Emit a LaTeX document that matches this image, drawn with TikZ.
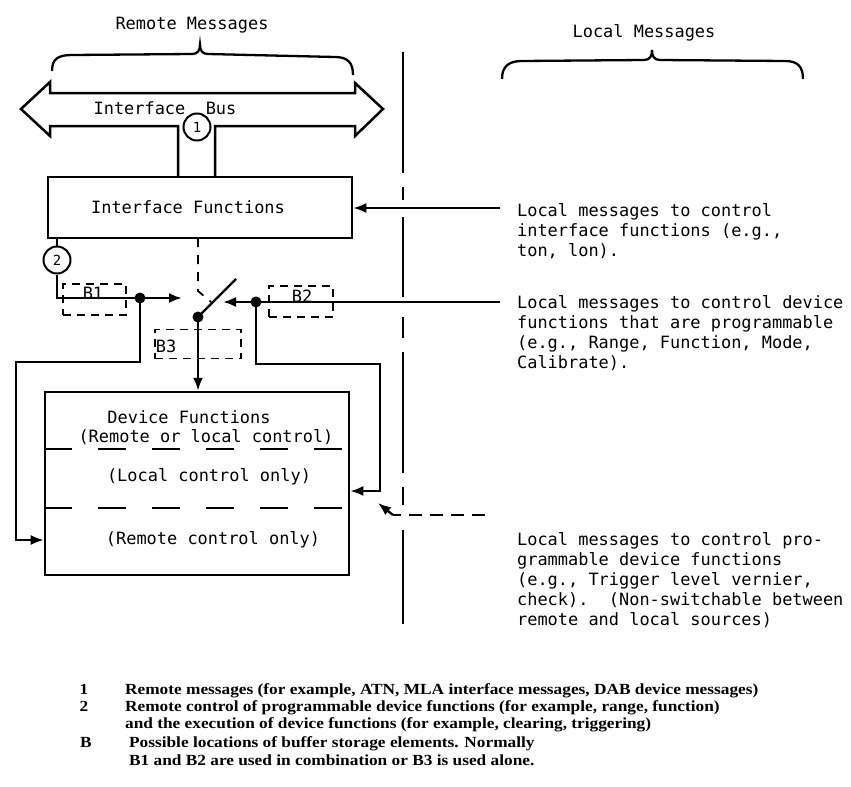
\documentclass[tikz,border=0pt]{standalone}
\usepackage{fontspec}
\setmonofont{DejaVu Sans Mono}
\newfontfamily\legendfont[FakeStretch=1.12]{Liberation Serif}
\usetikzlibrary{arrows.meta}
\begin{document}
\begin{tikzpicture}[x=1bp,y=-1bp,
  line width=2.3bp,
  txt/.style={font=\ttfamily\fontsize{17}{20}\selectfont, inner sep=0pt},
  rtxt/.style={txt, anchor=west, align=left},
  lgd/.style={font=\legendfont\bfseries\fontsize{15.5}{17}\selectfont, inner sep=0pt, anchor=base west},
  lgdn/.style={lgd, anchor=base},
  box/.style={draw, line width=2.5bp, inner sep=0pt},
  bufbox/.style={draw, dash pattern=on 8bp off 6bp, line width=1.8bp, inner sep=0pt},
  arr/.style={-{Latex[length=13bp,width=10bp]}},
  dot/.style={circle, fill, inner sep=0pt, minimum size=11bp},
  num/.style={circle, draw, fill=white, line width=2bp, inner sep=0pt, minimum size=27bp, font=\ttfamily\fontsize{14}{14}\selectfont},
  divider/.style={dash pattern=on 28bp off 26bp, line width=2.3bp},
  vdash/.style={line width=2.3bp},
]
\useasboundingbox (0,0) rectangle (851,787);

% headings and braces
\node[txt] (remote) at (192,25) {Remote Messages};
\node[txt] (local) at (644,33) {Local Messages};
\draw (52,71) .. controls (52,59) and (58,55) .. (72,55) -- (192,54)
      .. controls (198,54) and (200,50) .. (200,45)
      .. controls (200,50) and (202,54) .. (208,54) -- (335,57)
      .. controls (348,57) and (353,63) .. (353,75);
\draw (502,79) .. controls (502,67) and (508,61) .. (522,61) -- (644,60)
      .. controls (650,60) and (652,56) .. (652,50)
      .. controls (652,56) and (654,60) .. (660,60) -- (785,61)
      .. controls (798,61) and (803,67) .. (803,79);

% interface bus
\draw[line width=2.5bp, line join=miter] (178,177) -- (178,126) -- (50,126) -- (50,136) -- (21,109)
      -- (50,82) -- (50,93) -- (355,93) -- (355,83) -- (383,109) -- (355,136)
      -- (355,126) -- (215,126) -- (215,177);
\node[txt] (bus) at (165,108) {Interface\ \ Bus};
\node[num] (n1) at (197,127) {1};

% interface functions
\node[box, minimum width=304bp, minimum height=61bp] (ifn) at (200,207.5) {};
\node[txt] (ifntxt) at (188,207) {Interface Functions};

% remote path 2
\node[num] (n2) at (57,260) {2};
\draw (n2.north) -- (n2.north |- ifn.south);
\coordinate (swL) at (182,298);
\node[dot] (d1) at (140,298) {};
\draw[arr] (n2.south) |- (swL);
\node[bufbox, minimum width=63bp, minimum height=31bp] (b1) at (94.5,299.5) {};
\node[txt] (b1t) at (93,293) {B1};

% switch
\node[dot] (piv) at (198,317) {};
\coordinate (arm) at (236,279);
\draw (piv.center) -- (arm);
\coordinate (ctl) at (198,238);
\draw[dash pattern=on 9bp off 8bp, line width=1.8bp] (ctl) -- (198,291) -- (211,302);

% right local path to switch
\coordinate (lin2) at (500,302);
\coordinate (swR) at (223,302);
\node[dot] (d2) at (256,302) {};
\draw[arr] (lin2) -- (swR);
\node[bufbox, minimum width=64bp, minimum height=31bp] (b2) at (301,301.5) {};
\node[txt] (b2t) at (302,296) {B2};

\node[bufbox, minimum width=86bp, minimum height=29bp] (b3) at (198,344) {};
\node[txt] (b3t) at (166,346) {B3};

% device functions
\node[box, minimum width=304bp, minimum height=183bp] (dev) at (197,483.5) {};
\node[txt] (dt1) at (189,417) {Device Functions};
\node[txt] (dt2) at (206,437) {(Remote or local control)};
\node[txt] (dt3) at (209,477) {(Local control only)};
\node[txt] (dt4) at (213,540) {(Remote control only)};
\draw[divider] (dev.west |- 0,449) -- (dev.east |- 0,449);
\draw[divider] (dev.west |- 0,508) -- (dev.east |- 0,508);

\draw[arr] (piv.center) -- (piv.center |- dev.north);
\coordinate (l1) at (16,362);
\coordinate (l2) at (16,540);
\draw[arr] (d1.center) |- (l1) -- (l2) -- (dev.west |- l2);
\coordinate (r1) at (380,364);
\coordinate (r2) at (380,491);
\draw[arr] (d2.center) |- (r1) -- (r2) -- (dev.east |- r2);

% interface local messages
\coordinate (lin1) at (500,208);
\draw[arr] (lin1) -- (lin1 -| ifn.east);

% non-switchable local messages
\coordinate (lin3) at (485,515);
\coordinate (bend3) at (393,515);
\coordinate (tip3) at (378,503);
\draw[dash pattern=on 13bp off 8bp] (lin3) -- (bend3);
\draw[arr] (bend3) -- (tip3);

% dashed boundary
\draw[vdash] (403,52) -- (403,173);
\draw[vdash] (403,187) -- (403,200);
\draw[vdash] (403,217) -- (403,297);
\draw[vdash] (403,317) -- (403,338);
\draw[vdash] (403,352) -- (403,473);
\draw[vdash] (403,487) -- (403,505);
\draw[vdash] (403,530) -- (403,624);

% right texts
\node[rtxt] (rt1) at (516,231) {Local messages to control\\interface functions (e.g.,\\ton, lon).};
\node[rtxt] (rt2) at (516,333) {Local messages to control device\\functions that are programmable\\(e.g., Range, Function, Mode,\\Calibrate).};
\node[rtxt] (rt3) at (516,580) {Local messages to control pro-\\grammable device functions\\(e.g., Trigger level vernier,\\check).\ \ (Non-switchable between\\remote and local sources)};

% legend
\node[lgdn] (k1) at (84,694) {1};
\node[lgd] (k1t) at (124,694) {Remote messages (for example, ATN, MLA interface messages, DAB device messages)};
\node[lgdn] (k2) at (84,711) {2};
\node[lgd] (k2t) at (124,711) {Remote control of programmable device functions (for example, range, function)};
\node[lgd] (k2u) at (124,728) {and the execution of device functions (for example, clearing, triggering)};
\node[lgdn] (kb) at (86,747) {B};
\node[lgd] (kbt) at (128,747) {Possible locations of buffer storage elements. Normally};
\node[lgd] (kbu) at (128,765) {B1 and B2 are used in combination or B3 is used alone.};
\end{tikzpicture}
\end{document}
